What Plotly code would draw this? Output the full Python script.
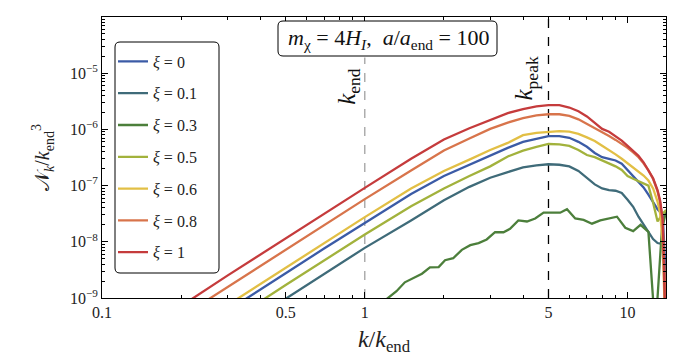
import math

import plotly.graph_objects as go

# k / k_end grid shared by the smooth spectra
K = [0.15, 0.2, 0.3, 0.5, 0.7, 1.0, 1.5, 2.0, 2.5, 3.0, 3.5, 4.0, 4.5, 5.0, 5.5,
     6.0, 6.5, 7.0, 7.5, 8.0, 8.5, 9.0, 9.5, 10.0, 10.5, 11.0, 11.5, 12.0, 12.5,
     13.0, 13.3, 13.6, 13.9, 14.0]

N_XI_0 = [7.4e-11, 1.74e-10, 5.9e-10, 2.75e-9, 7.6e-9, 2.2e-8, 7.1e-8, 1.48e-7,
          2.35e-7, 3.4e-7, 4.7e-7, 6.0e-7, 6.9e-7, 7.6e-7, 7.6e-7, 7.1e-7, 6.0e-7,
          4.9e-7, 3.8e-7, 3.2e-7, 3.0e-7, 2.8e-7, 2.45e-7, 1.9e-7, 1.51e-7, 1.2e-7,
          9.3e-8, 6.9e-8, 5.0e-8, 3.8e-8, 3.4e-8, 3.0e-8, 4.0e-9, 3.2e-10]
N_XI_01 = [2.6e-11, 6.2e-11, 2.1e-10, 9.8e-10, 2.7e-9, 7.8e-9, 2.4e-8, 5.5e-8,
           9.5e-8, 1.38e-7, 1.74e-7, 2.1e-7, 2.3e-7, 2.4e-7, 2.35e-7, 2.2e-7, 1.82e-7,
           1.38e-7, 1.05e-7, 8.9e-8, 8.3e-8, 8.1e-8, 7.4e-8, 5.6e-8, 4.2e-8, 2.8e-8,
           2.0e-8, 1.48e-8, 1.12e-8, 9.5e-9, 9.3e-9, 1.0e-8, 2.5e-9, 3.2e-10]
N_XI_05 = [4.6e-11, 1.07e-10, 3.6e-10, 1.7e-9, 4.7e-9, 1.35e-8, 4.3e-8, 8.9e-8,
           1.48e-7, 2.2e-7, 3.3e-7, 4.2e-7, 4.9e-7, 5.5e-7, 5.4e-7, 5.1e-7, 4.3e-7,
           3.5e-7, 3.2e-7, 2.8e-7, 2.5e-7, 2.2e-7, 1.9e-7, 1.48e-7, 1.32e-7, 1.2e-7,
           1.1e-7, 1.0e-7, 5.0e-8, 2.3e-8, 2.7e-8, 3.2e-8, 3.5e-8, 3.7e-8]
N_XI_06 = [9.3e-11, 2.2e-10, 7.4e-10, 3.5e-9, 9.5e-9, 2.75e-8, 8.9e-8, 1.82e-7,
           2.9e-7, 4.3e-7, 5.75e-7, 7.9e-7, 8.7e-7, 9.1e-7, 9.3e-7, 9.1e-7, 8.3e-7,
           7.2e-7, 6.2e-7, 5.1e-7, 4.3e-7, 3.6e-7, 3.0e-7, 2.5e-7, 2.15e-7, 1.82e-7,
           1.51e-7, 1.23e-7, 8.9e-8, 5.2e-8, 3.2e-8, 1.0e-8, 6.3e-10, 1.0e-10]
N_XI_08 = [1.95e-10, 4.6e-10, 1.55e-9, 7.2e-9, 2.0e-8, 5.75e-8, 1.86e-7, 4.2e-7,
           6.9e-7, 1.02e-6, 1.32e-6, 1.58e-6, 1.78e-6, 1.86e-6, 1.86e-6, 1.74e-6,
           1.51e-6, 1.26e-6, 1.05e-6, 8.9e-7, 7.6e-7, 6.5e-7, 5.6e-7, 4.7e-7, 3.9e-7,
           3.2e-7, 2.5e-7, 1.86e-7, 1.32e-7, 7.9e-8, 5.0e-8, 2.2e-8, 1.25e-9, 1.0e-10]
N_XI_1 = [3.1e-10, 7.2e-10, 2.5e-9, 1.15e-8, 3.2e-8, 9.1e-8, 3.0e-7, 6.6e-7,
          1.05e-6, 1.48e-6, 1.95e-6, 2.3e-6, 2.57e-6, 2.7e-6, 2.7e-6, 2.45e-6, 2.1e-6,
          1.7e-6, 1.29e-6, 1.02e-6, 9.1e-7, 7.6e-7, 6.3e-7, 5.1e-7, 4.2e-7, 3.4e-7,
          2.6e-7, 1.9e-7, 1.35e-7, 8.3e-8, 5.4e-8, 2.5e-8, 1.6e-9, 1.0e-10]

# xi = 0.3 is noisy, so it keeps its own finer grid
K_XI_03 = [1.15, 1.25, 1.32, 1.42, 1.53, 1.65, 1.77, 1.91, 2.02, 2.17, 2.34, 2.52,
           2.71, 2.91, 3.13, 3.37, 3.57, 3.84, 4.14, 4.45, 4.79, 5.15, 5.54, 5.88,
           6.32, 6.80, 7.32, 7.87, 8.47, 9.11, 9.80, 10.5, 11.2, 12.0, 12.75, 13.5,
           14.0]
N_XI_03 = [7.9e-10, 1.07e-9, 1.32e-9, 1.9e-9, 2.3e-9, 2.7e-9, 3.5e-9, 3.55e-9,
           4.7e-9, 5.1e-9, 7.2e-9, 8.7e-9, 9.5e-9, 1.1e-8, 1.48e-8, 1.48e-8, 1.7e-8,
           2.4e-8, 2.3e-8, 2.6e-8, 3.3e-8, 3.3e-8, 3.3e-8, 3.8e-8, 2.6e-8, 2.45e-8,
           2.1e-8, 2.4e-8, 2.6e-8, 2.8e-8, 1.78e-8, 1.55e-8, 2.0e-8, 1.5e-8, 2.5e-10,
           1.6e-8, 3.5e-8]

SERIES = [
    ("0", K, N_XI_0, "#3b5ba6"),
    ("0.1", K, N_XI_01, "#3f6b79"),
    ("0.3", K_XI_03, N_XI_03, "#4c7f3b"),
    ("0.5", K, N_XI_05, "#a2b23c"),
    ("0.6", K, N_XI_06, "#e2bf45"),
    ("0.8", K, N_XI_08, "#d8744b"),
    ("1", K, N_XI_1, "#c53b3c"),
]

X_TICKS = [0.1, 0.5, 1, 5, 10]
X_TICK_TEXT = ["0.1", "0.5", "1", "5", "10"]
X_MINOR = [0.2, 0.3, 0.4, 0.6, 0.7, 0.8, 0.9, 2, 3, 4, 6, 7, 8, 9]
Y_TICKS = [1e-9, 1e-8, 1e-7, 1e-6, 1e-5]
Y_TICK_TEXT = ["10<sup>\u22129</sup>", "10<sup>\u22128</sup>", "10<sup>\u22127</sup>",
               "10<sup>\u22126</sup>", "10<sup>\u22125</sup>"]
Y_MINOR = [m * 10.0 ** e for e in range(-9, -4) for m in range(2, 10)]

K_END, K_PEAK = 1.0, 5.0

SERIF = "Liberation Serif"
W, H = 683, 359
L, R, T, B = 102, 17, 17, 61
PW, PH = W - L - R, H - T - B


def _px(x, y):
    """pixel position -> paper coordinates"""
    return (x - L) / PW, (H - B - y) / PH


def _rounded_box(x0, y0, x1, y1, r=5):
    (a0, b1), (a1, b0) = _px(x0, y0), _px(x1, y1)
    rx, ry = r / PW, r / PH
    return (f"M{a0 + rx},{b0} L{a1 - rx},{b0} Q{a1},{b0} {a1},{b0 + ry} "
            f"L{a1},{b1 - ry} Q{a1},{b1} {a1 - rx},{b1} L{a0 + rx},{b1} "
            f"Q{a0},{b1} {a0},{b1 - ry} L{a0},{b0 + ry} Q{a0},{b0} {a0 + rx},{b0} Z")


fig = go.Figure()

fig.add_trace(go.Scatter(x=[K_END, K_END], y=[1e-9, 1.9e-5], mode="lines", showlegend=False,
                         line=dict(color="#9a9a9a", width=1.2, dash="dash"), hoverinfo="skip"))
fig.add_trace(go.Scatter(x=[K_PEAK, K_PEAK], y=[1e-9, 1e-4], mode="lines", showlegend=False,
                         line=dict(color="black", width=1.3, dash="dash"), hoverinfo="skip"))

for xi, ks, ns, col in SERIES:
    fig.add_trace(go.Scatter(x=ks, y=ns, mode="lines", name=f"<i>\u03be</i> = {xi}",
                             legendgroup=xi, line=dict(color=col, width=2.3)))

axis_common = dict(showline=True, linecolor="black", linewidth=1, mirror="allticks",
                   ticks="inside", ticklen=6, tickcolor="black", showgrid=False,
                   zeroline=False, tickfont=dict(family=SERIF, size=16, color="#222"))

fig.update_xaxes(type="log", range=[-1, math.log10(14)], tickvals=X_TICKS,
                 ticktext=X_TICK_TEXT,
                 minor=dict(ticks="inside", ticklen=3, tickcolor="black", tickvals=X_MINOR),
                 title=dict(text="<i>k</i>/<i>k</i><sub>end</sub>", standoff=9,
                            font=dict(family=SERIF, size=24, color="#222")),
                 **axis_common)
fig.update_yaxes(type="log", range=[-9, -4], tickvals=Y_TICKS, ticktext=Y_TICK_TEXT,
                 minor=dict(ticks="inside", ticklen=3, tickcolor="black", tickvals=Y_MINOR),
                 title=dict(text="\U0001D4A9<sub><i>k</i></sub>/<i>k</i><sub>end</sub><sup>3</sup>",
                            standoff=14, font=dict(family=SERIF, size=20, color="#222")),
                 **axis_common)

fig.add_shape(type="path", xref="paper", yref="paper", path=_rounded_box(115, 42, 219, 273),
              line=dict(color="black", width=1), fillcolor="rgba(255,255,255,0)")
fig.add_shape(type="path", xref="paper", yref="paper", path=_rounded_box(278, 21, 497, 56),
              line=dict(color="black", width=1), fillcolor="white")

label_font = dict(family=SERIF, size=25, color="#111")
tx, ty = _px(388, 39)
fig.add_annotation(x=tx, y=ty, xref="paper", yref="paper", xanchor="center", yanchor="middle",
                   showarrow=False,
                   text="<i>m</i><sub>\u03c7</sub> = 4<i>H<sub>I</sub></i>,  "
                        "<i>a</i>/<i>a</i><sub>end</sub> = 100",
                   font=dict(family=SERIF, size=22, color="#111"))
_, ly = _px(0, 86)
fig.add_annotation(x=math.log10(K_END), y=ly, xref="x", yref="paper", xshift=-17,
                   xanchor="center", yanchor="middle", showarrow=False, textangle=-90,
                   text="<i>k</i><sub>end</sub>", font=label_font)
_, py = _px(0, 78)
fig.add_annotation(x=math.log10(K_PEAK), y=py, xref="x", yref="paper", xshift=-23,
                   xanchor="center", yanchor="middle", showarrow=False, textangle=-90,
                   text="<i>k</i><sub>peak</sub>", font=label_font)

lx, lyt = _px(113, 44.5)
fig.update_layout(
    width=W, height=H,
    margin=dict(l=L, r=R, t=T, b=B),
    paper_bgcolor="white", plot_bgcolor="white",
    showlegend=True,
    legend=dict(x=lx, y=lyt, xanchor="left", yanchor="top", bgcolor="rgba(0,0,0,0)",
                borderwidth=0, tracegroupgap=8,
                font=dict(family=SERIF, size=16, color="#222")),
)

# the page body has a default 8px margin; drop it so the figure sits at the origin
fig.write_html("out.html", config={"displayModeBar": False},
               post_script="document.body.style.margin = '0px';")
